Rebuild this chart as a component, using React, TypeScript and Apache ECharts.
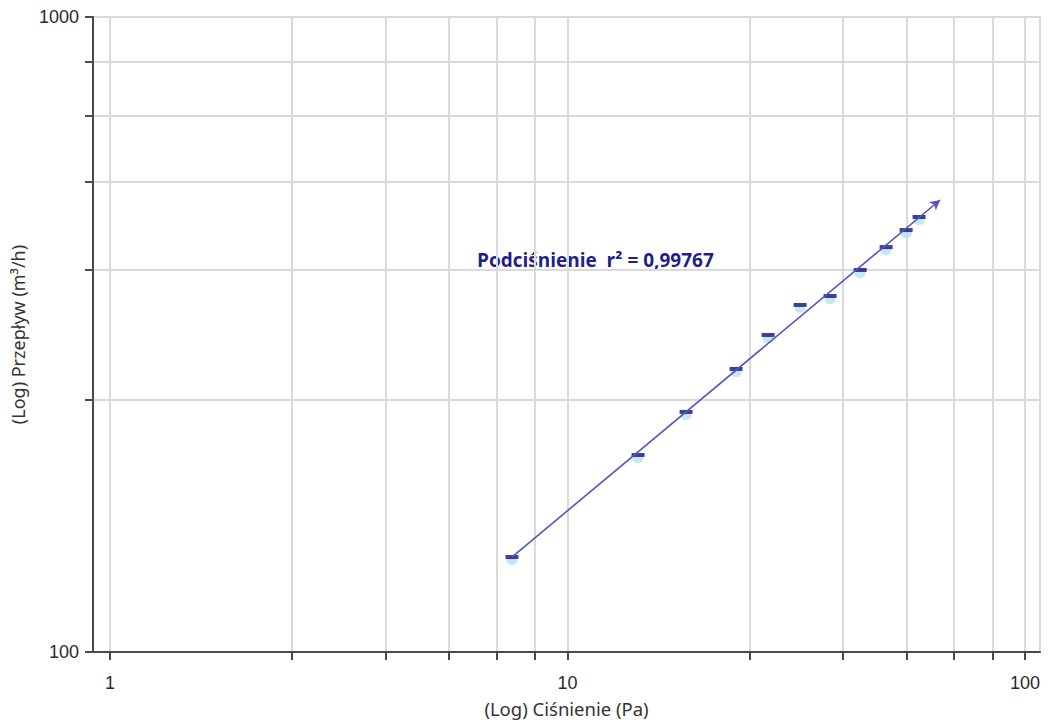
import React, { useEffect, useRef } from 'react';
import * as echarts from 'echarts';

// Measured points (pressure Pa, flow m3/h)
const pressure = [7.56, 14.26, 18.16, 23.35, 27.44, 32.23, 37.48, 43.6, 49.7, 54.95, 58.66];
const flow = [141.1, 204.3, 238.8, 279.1, 315.7, 352, 363.6, 399.6, 434.2, 461.8, 484.2];
// Regression line ends
const fitStart = [7.56, 141.1];
const fitEnd = [65.2, 515];
// Axis ticks and labels
const xTicks = [1, 2.5, 4, 5.5, 7, 8.5, 10, 25, 40, 55, 70, 85, 100];
const xLabels = [1, 10, 100];
const yTicks = [100, 250, 400, 550, 700, 850, 1000];
const yLabels = [100, 1000];
const xName = '(Log) Ciśnienie (Pa)';
const yName = '(Log) Przepływ (m³/h)';
const fitLabel = 'Podciśnienie  r² = 0,99767';

export default function App() {
  const ref = useRef<HTMLDivElement>(null);
  useEffect(() => {
    if (!ref.current) return;
    const chart = echarts.init(ref.current, undefined, { renderer: 'svg' });
    const pts = pressure.map((p, i) => [p, flow[i]]);
    const axisColor = '#4a4a4a';
    const gridColor = '#dadada';
    const fmt = (v: number) => String(Math.round(v));
    chart.setOption({
      animation: false,
      backgroundColor: '#ffffff',
      grid: {
        left: 93, top: 17, right: 8, bottom: 73,
        show: true, borderColor: gridColor, borderWidth: 2,
      },
      xAxis: {
        type: 'log', logBase: 10, min: 0.9181, max: 107.8,
        name: xName, nameLocation: 'middle', nameGap: 47,
        nameTextStyle: { fontFamily: 'Noto Sans', fontSize: 18.5, color: '#333' },
        axisLine: { show: true, lineStyle: { color: axisColor, width: 2 } },
        axisTick: { show: true, customValues: xTicks, length: 8, lineStyle: { color: axisColor, width: 2 } },
        axisLabel: { customValues: xLabels, formatter: fmt, fontFamily: 'Liberation Sans', fontSize: 18, color: '#2a2a2a', margin: 22 },
        splitLine: { show: true, lineStyle: { color: gridColor, width: 2 } },
        minorTick: { show: false }, minorSplitLine: { show: false },
      },
      yAxis: {
        type: 'log', logBase: 10, min: 100, max: 1000,
        name: yName, nameLocation: 'middle', nameGap: 66,
        nameTextStyle: { fontFamily: 'Noto Sans', fontSize: 18, color: '#333' },
        axisLine: { show: true, lineStyle: { color: axisColor, width: 2 } },
        axisTick: { show: true, customValues: yTicks, length: 8, lineStyle: { color: axisColor, width: 2 } },
        axisLabel: { customValues: yLabels, formatter: fmt, fontFamily: 'Liberation Sans', fontSize: 18, color: '#2a2a2a', margin: 14 },
        splitLine: { show: true, lineStyle: { color: gridColor, width: 2 } },
      },
      series: [
        {
          type: 'scatter', data: pts, symbol: 'circle', symbolSize: [11, 8], symbolOffset: [0, 4],
          itemStyle: { color: '#b3e3f3' }, z: 2,
        },
        {
          type: 'line', data: [], z: 3, silent: true,
          markLine: {
            silent: true, symbol: ['none', 'arrow'], symbolSize: [8, 10],
            lineStyle: { color: '#5a52b8', width: 1.6, type: 'solid' },
            label: { show: false },
            data: [[{ coord: fitStart }, { coord: fitEnd }]],
          },
        },
        {
          type: 'scatter', data: pts, symbol: 'rect', symbolSize: [13, 4],
          itemStyle: { color: '#10107a' }, z: 4,
        },
      ],
      graphic: [
        {
          type: 'text', left: 477, top: 250,
          style: { text: fitLabel, fontFamily: 'Open Sans', fontWeight: 'bold', fontSize: 19, fill: '#1f1f8a' },
        },
      ],
    });
    return () => chart.dispose();
  }, []);
  return <div ref={ref} style={{ position: 'fixed', left: 0, top: 0, width: 1048, height: 725 }} />;
}
